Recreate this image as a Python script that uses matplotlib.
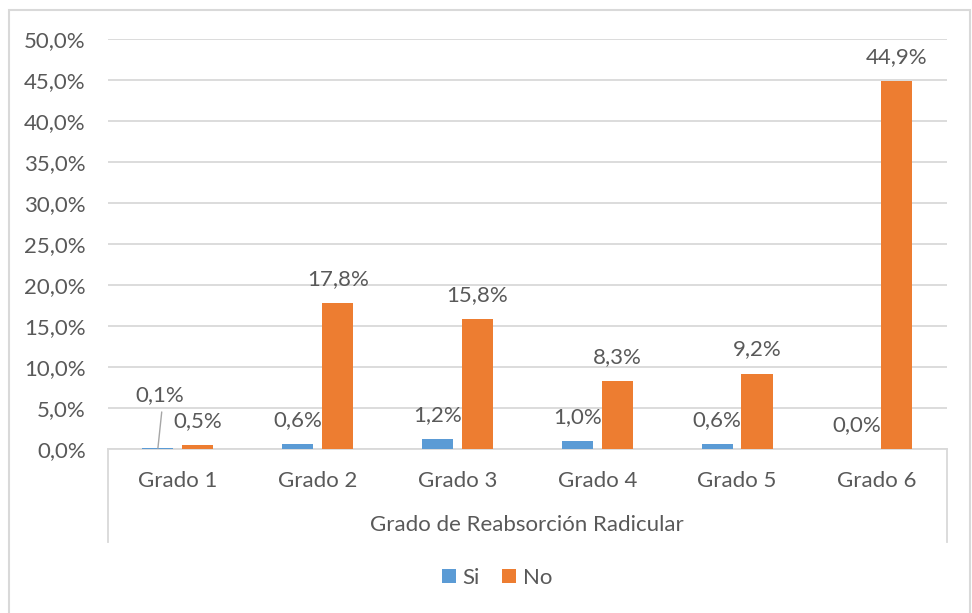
import matplotlib.pyplot as plt
from matplotlib.patches import Rectangle
from matplotlib.lines import Line2D
import numpy as np

# datos
grados = ["Grado 1", "Grado 2", "Grado 3", "Grado 4", "Grado 5", "Grado 6"]
si = [0.1, 0.6, 1.2, 1.0, 0.6, 0.0]
no = [0.5, 17.8, 15.8, 8.3, 9.2, 44.9]
y_ticks = [0, 5, 10, 15, 20, 25, 30, 35, 40, 45, 50]
eje_titulo = "Grado de Reabsorción Radicular"

plt.rcParams['font.family'] = ['Lato', 'DejaVu Sans']
gris = "#595959"
linea = "#d9d9d9"
c_si = "#5B9BD5"
c_no = "#ED7D31"
fs = 16

W, H = 972, 613
fig = plt.figure(figsize=(W / 100, H / 100), dpi=100)

# borde exterior
fig.patches.append(Rectangle((9 / W, -0.01), 961 / W, 1 - 10 / H + 0.01, transform=fig.transFigure,
                             fill=False, edgecolor=linea, linewidth=1.5))

x0, x1, y0, y1 = 108, 946.7, 449, 39
ax = fig.add_axes([x0 / W, 1 - y0 / H, (x1 - x0) / W, (y0 - y1) / H])

x = np.arange(len(grados))
ancho = 0.222
off = 0.143
b1 = ax.bar(x - off, si, ancho, color=c_si, label="Si", zorder=3)
b2 = ax.bar(x + off, no, ancho, color=c_no, label="No", zorder=3)

ax.set_xlim(-0.5, len(grados) - 0.5)
ax.set_ylim(0, 50)
ax.set_yticks(y_ticks)
ax.set_yticklabels([f"{v:.1f}%".replace(".", ",") for v in y_ticks], fontsize=fs, color=gris)
ax.tick_params(axis="y", length=0, pad=16)
ax.set_xticks(x)
ax.set_xticklabels(grados, fontsize=fs, color=gris)
ax.tick_params(axis="x", length=0, pad=16)
ax.grid(axis="y", color=linea, linewidth=1.3, zorder=0)
for s in ["top", "right", "left"]:
    ax.spines[s].set_visible(False)
ax.spines["bottom"].set_color(linea)
ax.spines["bottom"].set_linewidth(1.3)

def etiqueta(v):
    return f"{v:.1f}%".replace(".", ",")

for i, v in enumerate(si):
    if i == 0:
        ax.annotate(etiqueta(v), (x[i] - off, v), xytext=(1, 34), textcoords="offset points",
                    ha="center", va="baseline", fontsize=fs, color=gris,
                    arrowprops=dict(arrowstyle="-", color="#a6a6a6", lw=1, shrinkA=0, shrinkB=0,
                                    relpos=(0.55, -0.35)))
    else:
        ax.annotate(etiqueta(v), (x[i] - off, v), xytext=(0, 13), textcoords="offset points",
                    ha="center", va="baseline", fontsize=fs, color=gris)
for i, v in enumerate(no):
    ax.annotate(etiqueta(v), (x[i] + off, v), xytext=(0, 13), textcoords="offset points",
                ha="center", va="baseline", fontsize=fs, color=gris)

# lineas del eje de categorias
yb = -(542 - 449) / (449 - 39)
for xa in [0, 1]:
    ax.add_line(Line2D([xa, xa], [0, yb], transform=ax.transAxes, color=linea, lw=1.3, clip_on=False))
fig.text((x0 + x1) / 2 / W, 1 - 525 / H, eje_titulo, ha="center", va="center", fontsize=fs, color=gris)

leg = fig.legend(handles=[b1, b2], loc="center", bbox_to_anchor=(497 / W, 1 - 578 / H), ncol=2,
                 frameon=False, fontsize=fs, handlelength=0.62, handleheight=0.62,
                 handletextpad=0.3, columnspacing=1.0)
for t in leg.get_texts():
    t.set_color(gris)

fig.savefig("out.png", dpi=100)
